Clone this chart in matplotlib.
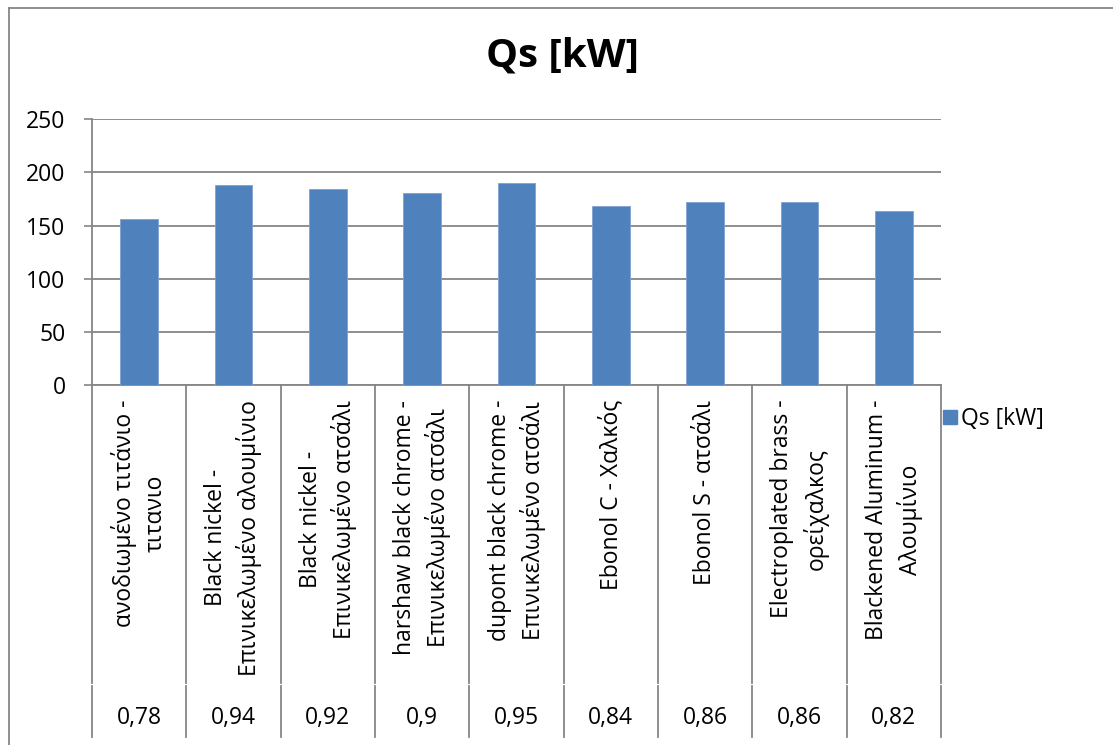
import matplotlib
matplotlib.use("Agg")
import matplotlib.pyplot as plt
from matplotlib.transforms import blended_transform_factory
from matplotlib.lines import Line2D
from matplotlib.patches import Patch

plt.rcParams['font.family'] = ['Open Sans', 'DejaVu Sans']

categories = ["ανοδιωμένο τιτάνιο -\nτιτανιο",
              "Black nickel -\nΕπινικελωμένο αλουμίνιο",
              "Black nickel -\nΕπινικελωμένο ατσάλι",
              "harshaw black chrome -\nΕπινικελωμένο ατσάλι",
              "dupont black chrome -\nΕπινικελωμένο ατσάλι",
              "Ebonol C - Χαλκός",
              "Ebonol S - ατσάλι",
              "Electroplated brass -\nορείχαλκος",
              "Blackened Aluminum -\nΑλουμίνιο"]
emissivity = ["0,78", "0,94", "0,92", "0,9", "0,95", "0,84", "0,86", "0,86", "0,82"]
qs_values = [156, 188, 184, 181, 190, 168, 172, 172, 164]
yticks = [0, 50, 100, 150, 200, 250]
series_name = "Qs [kW]"

W, H = 1113, 745
FS = 16.5
fig = plt.figure(figsize=(W / 100, H / 100), dpi=100)
ax = fig.add_axes([92 / W, (H - 385) / H, (941 - 92) / W, (385 - 119.3) / H])

grid_c = "#868686"
bar_c = "#4F81BD"

x = list(range(len(qs_values)))
ax.bar(x, qs_values, width=0.4, color=bar_c, edgecolor="#7FA2D2", linewidth=0.6, zorder=3)

ax.set_xlim(-0.5, len(qs_values) - 0.5)
ax.set_ylim(0, 250)
ax.set_yticks(yticks)
ax.set_yticklabels([str(v) for v in yticks], fontsize=FS)
ax.tick_params(axis='y', length=6, width=1.2, color=grid_c, pad=13)
ax.set_xticks([])
ax.yaxis.grid(True, color=grid_c, linewidth=1.3, zorder=0)
ax.set_axisbelow(True)
for s in ['top', 'right']:
    ax.spines[s].set_visible(False)
for s in ['left', 'bottom']:
    ax.spines[s].set_color(grid_c)
    ax.spines[s].set_linewidth(1.3)

# category separators and labels
tr = blended_transform_factory(ax.transData, fig.transFigure)
y_axis = (H - 385) / H
y_gap1 = (H - 683) / H
y_gap2 = (H - 686) / H
y_end = (H - 737) / H
for b in range(len(qs_values) + 1):
    xb = b - 0.5
    ax.plot([xb, xb], [y_axis, y_gap1], transform=tr, color=grid_c, lw=1.3, clip_on=False)
    ax.plot([xb, xb], [y_gap2, y_end], transform=tr, color=grid_c, lw=1.3, clip_on=False)

for i, (lab, em) in enumerate(zip(categories, emissivity)):
    ax.text(i, (H - 400) / H, lab, transform=tr, rotation=90, ha='center', va='top',
            multialignment='center', fontsize=FS, linespacing=1.4)
    ax.text(i, (H - 718) / H, em, transform=tr, ha='center', va='center', fontsize=FS)

# title
fig.text(562 / W, (H - 56) / H, "Qs [kW]", ha='center', va='center', fontsize=29, fontweight='bold')

# legend
fig.legend(handles=[Patch(facecolor=bar_c, edgecolor=bar_c)], labels=[series_name],
           loc='center left', bbox_to_anchor=(943 / W, (H - 419) / H), frameon=False,
           fontsize=FS, handlelength=0.6, handleheight=0.6, handletextpad=0.2,
           borderpad=0, borderaxespad=0)

# chart-area frame (left and top edges visible)
fig.add_artist(Line2D([9 / W, 9 / W], [0, (H - 8) / H], transform=fig.transFigure, color=grid_c, lw=1.3))
fig.add_artist(Line2D([9 / W, 1], [(H - 8) / H, (H - 8) / H], transform=fig.transFigure, color=grid_c, lw=1.3))

fig.savefig("out.png", dpi=100)
